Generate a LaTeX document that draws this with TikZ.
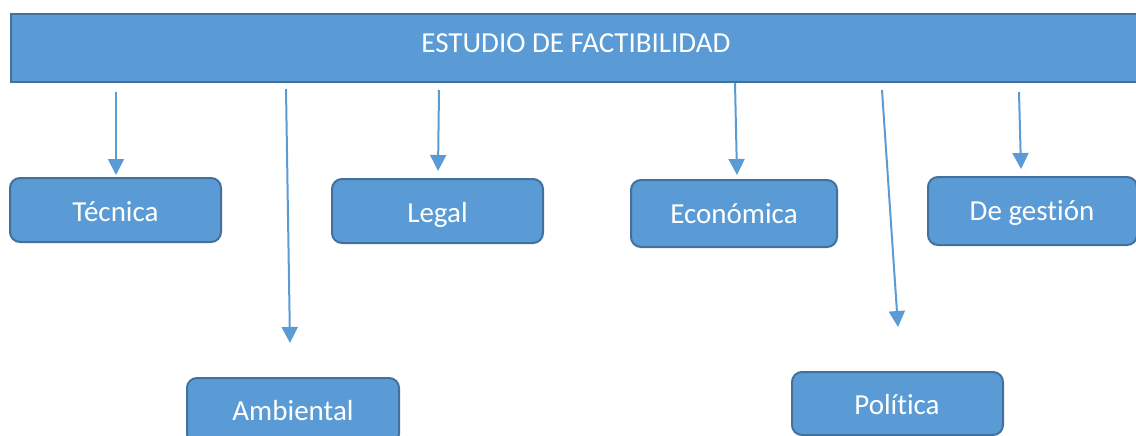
\documentclass[tikz,border=0pt]{standalone}
\usepackage{fontspec}
\setmainfont[Ligatures=NoCommon]{Carlito}
\usetikzlibrary{arrows.meta}
\definecolor{boxfill}{HTML}{5B9BD5}
\definecolor{boxline}{HTML}{41719C}
\tikzset{
  header/.style={draw=boxline, fill=boxfill, line width=2pt, inner sep=0pt},
  area/.style={draw=boxline, fill=boxfill, line width=2pt, rounded corners=10pt, inner sep=0pt},
  lbl/.style={text=white, font=\fontsize{29}{34}\selectfont, inner sep=0pt, anchor=base},
  conn/.style={draw=boxfill, line width=2pt, -{Triangle[length=16pt,width=16pt]}}
}
\begin{document}
\begin{tikzpicture}[x=1pt,y=-1pt]
\useasboundingbox (0,0) rectangle (1136,436);
\clip (0,0) rectangle (1136,436);
% header
\path[header] (11,14) rectangle (1150,82);
\node[lbl] (head) at (576,53) {ESTUDIO DE FACTIBILIDAD};
% boxes
\path[area] (10,178) rectangle (221,242);
\node[lbl] (tec) at (115.5,221) {Técnica};
\path[area] (332,179) rectangle (543,243);
\node[lbl] (leg) at (437.5,222) {Legal};
\path[area] (631,180) rectangle (837,247);
\node[lbl] (eco) at (734,223) {Económica};
\path[area] (928,177) rectangle (1137,245);
\node[lbl] (ges) at (1032,220) {De gestión};
\path[area] (187,378) rectangle (399,444);
\node[lbl] (amb) at (293,420) {Ambiental};
\path[area] (792,372) rectangle (1003,435);
\node[lbl] (pol) at (897,414) {Política};
% connector end points
\coordinate (s1) at (116,92);  \coordinate (e1) at (116,175);
\coordinate (s2) at (286,89);  \coordinate (e2) at (290,343);
\coordinate (s3) at (439,90);  \coordinate (e3) at (438,171);
\coordinate (s4) at (735,83);  \coordinate (e4) at (737,175);
\coordinate (s5) at (882,90);  \coordinate (e5) at (898,327);
\coordinate (s6) at (1019,92); \coordinate (e6) at (1021,169);
\draw[conn] (s1) -- (e1);
\draw[conn] (s2) -- (e2);
\draw[conn] (s3) -- (e3);
\draw[conn] (s4) -- (e4);
\draw[conn] (s5) -- (e5);
\draw[conn] (s6) -- (e6);
\end{tikzpicture}
\end{document}
